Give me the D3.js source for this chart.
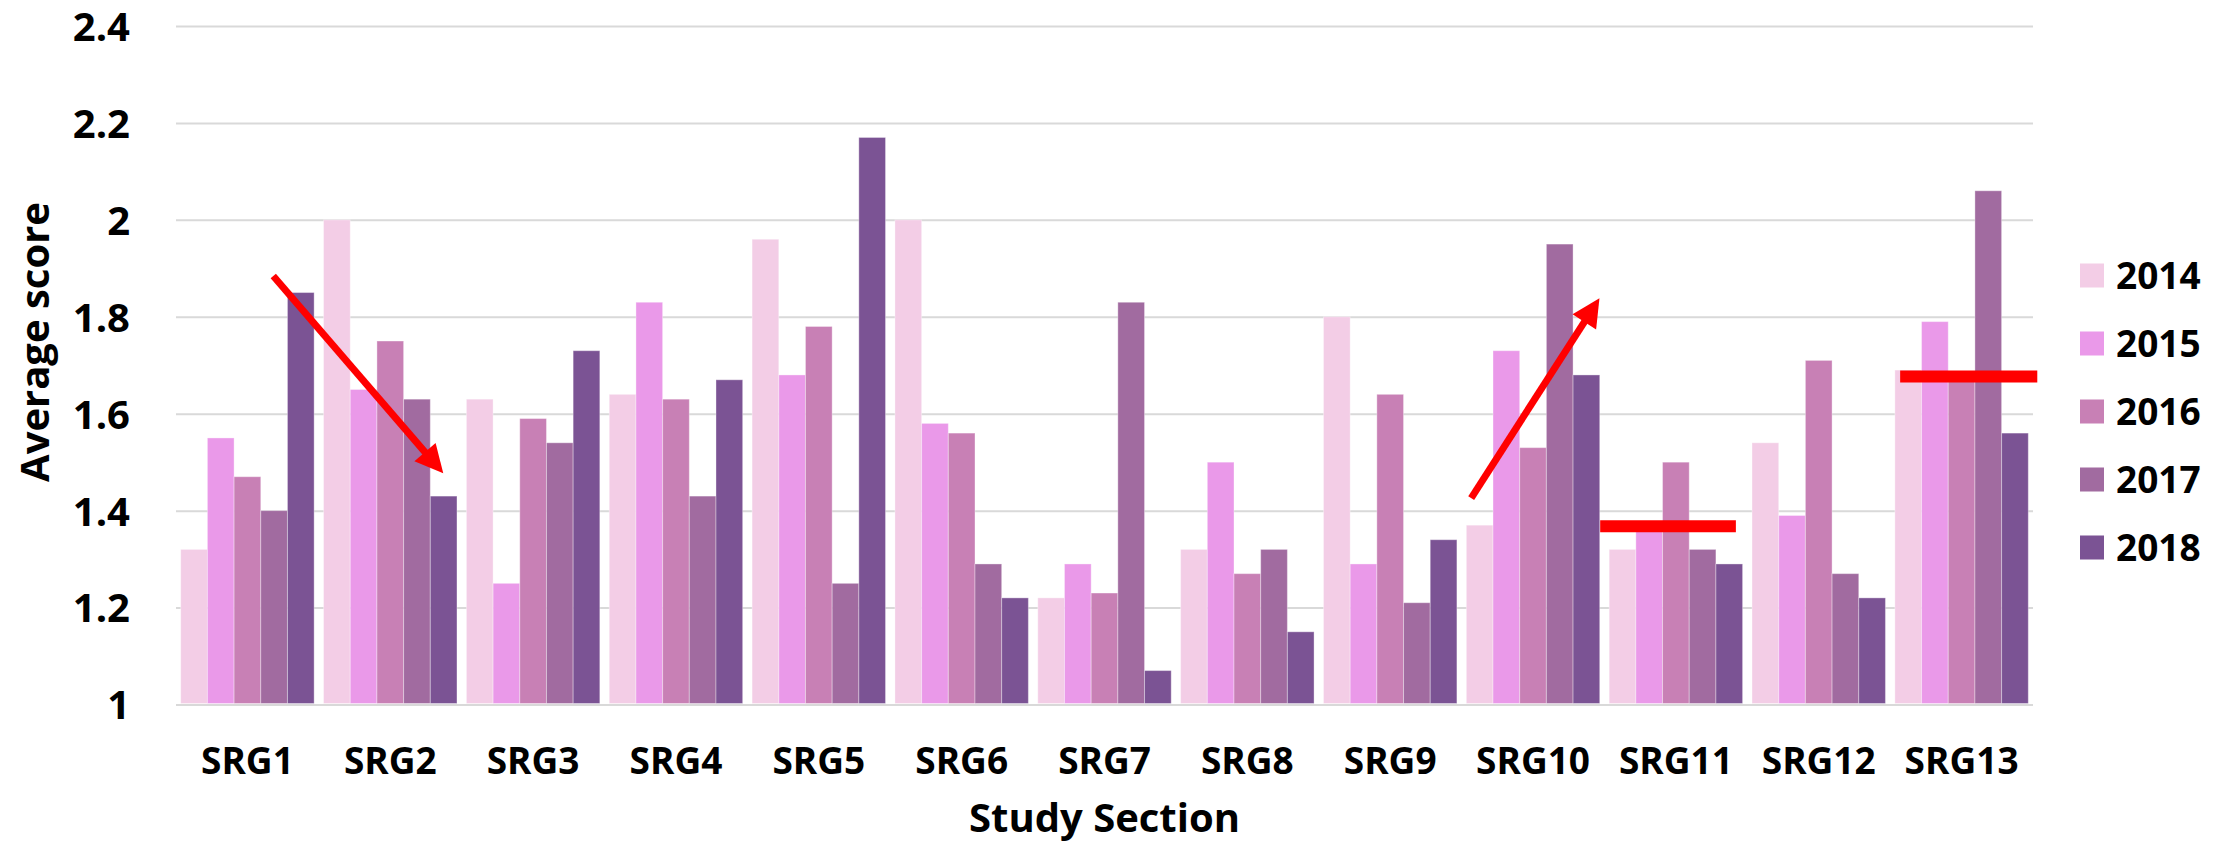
<!DOCTYPE html>
<html>
<head>
<meta charset="utf-8">
<script src="https://cdn.jsdelivr.net/npm/d3@7"></script>
<style>
  html, body { margin: 0; padding: 0; background: #ffffff; }
  svg { display: block; }
  text { font-family: "Open Sans", "Noto Sans", sans-serif; font-weight: 700; fill: #000; }
</style>
</head>
<body>
<script>
// ---------------- DATA ----------------
const categories = ["SRG1","SRG2","SRG3","SRG4","SRG5","SRG6","SRG7","SRG8","SRG9","SRG10","SRG11","SRG12","SRG13"];
const years = ["2014","2015","2016","2017","2018"];
const values2014 = [1.32, 2.00, 1.63, 1.64, 1.96, 2.00, 1.22, 1.32, 1.80, 1.37, 1.32, 1.54, 1.69];
const values2015 = [1.55, 1.65, 1.25, 1.83, 1.68, 1.58, 1.29, 1.50, 1.29, 1.73, 1.37, 1.39, 1.79];
const values2016 = [1.47, 1.75, 1.59, 1.63, 1.78, 1.56, 1.23, 1.27, 1.64, 1.53, 1.50, 1.71, 1.68];
const values2017 = [1.40, 1.63, 1.54, 1.43, 1.25, 1.29, 1.83, 1.32, 1.21, 1.95, 1.32, 1.27, 2.06];
const values2018 = [1.85, 1.43, 1.73, 1.67, 2.17, 1.22, 1.07, 1.15, 1.34, 1.68, 1.29, 1.22, 1.56];
const seriesValues = [values2014, values2015, values2016, values2017, values2018];
const yTicks = [1, 1.2, 1.4, 1.6, 1.8, 2, 2.2, 2.4];
const yTickLabels = ["1","1.2","1.4","1.6","1.8","2","2.2","2.4"];
const colors = ["#f3cde6","#ea99e9","#c880b5","#a16ba0","#7b5394"];
const xTitle = "Study Section";
const yTitle = "Average score";
// annotations, in data units (x in category units from left edge, y in score)
const arrows = [
  {x1: 0.681, y1: 1.884, x2: 1.871, y2: 1.477},
  {x1: 9.067, y1: 1.426, x2: 9.965, y2: 1.838}
];
const flatLines = [
  {x1: 9.97, x2: 10.92, y: 1.368},
  {x1: 12.07, x2: 13.03, y: 1.677}
];

// ---------------- LAYOUT ----------------
const W = 2228, H = 847;
const plot = {left: 176, right: 2033, top: 26, bottom: 704.5};

const svg = d3.select("body").append("svg").attr("width", W).attr("height", H);

const x0 = d3.scaleBand().domain(categories).range([plot.left, plot.right])
  .paddingInner(0.066).paddingOuter(0.033);
const x1 = d3.scaleBand().domain(years).range([0, x0.bandwidth()]).padding(0);
const y = d3.scaleLinear().domain([1, 2.4]).range([plot.bottom, plot.top]);
const xu = d3.scaleLinear().domain([0, categories.length]).range([plot.left, plot.right]);

// gridlines
const yAxis = d3.axisLeft(y).tickValues(yTicks)
  .tickSize(-(plot.right - plot.left))
  .tickFormat((d, i) => yTickLabels[i]);
const gy = svg.append("g").attr("transform", `translate(${plot.left},0)`).call(yAxis);
gy.select(".domain").remove();
gy.selectAll(".tick line").attr("stroke", "#d9d9d9").attr("stroke-width", 2);
gy.selectAll(".tick text")
  .attr("x", -46)
  .attr("dy", "0.36em")
  .style("font-size", "40px")
  .attr("fill", "#000");

// bars
const groups = svg.append("g").selectAll("g")
  .data(categories)
  .join("g")
  .attr("transform", d => `translate(${x0(d)},0)`);

groups.selectAll("rect")
  .data((c, ci) => years.map((yr, yi) => ({year: yr, yi, v: seriesValues[yi][ci]})))
  .join("rect")
  .attr("x", d => x1(d.year))
  .attr("width", x1.bandwidth())
  .attr("y", d => y(d.v))
  .attr("height", d => y(1) - 1 - y(d.v))
  .attr("fill", d => colors[d.yi])
  .attr("stroke", "rgba(255,255,255,0.35)")
  .attr("stroke-width", 1);

// x axis labels
const xAxis = d3.axisBottom(x0).tickSize(0).tickPadding(0);
const gx = svg.append("g").attr("transform", `translate(0,${plot.bottom})`).call(xAxis);
gx.select(".domain").remove();
gx.selectAll(".tick text")
  .attr("y", 69)
  .attr("dy", 0)
  .style("font-size", "37px")
  .attr("fill", "#000");

// axis titles
svg.append("text")
  .attr("x", (plot.left + plot.right) / 2)
  .attr("y", 832)
  .attr("text-anchor", "middle")
  .style("font-size", "40px")
  .text(xTitle);

svg.append("text")
  .attr("transform", `translate(49,342) rotate(-90)`)
  .attr("text-anchor", "middle")
  .style("font-size", "40px")
  .text(yTitle);

// legend
const legend = svg.append("g");
const legendRows = legend.selectAll("g").data(years).join("g")
  .attr("transform", (d, i) => `translate(2080,${275.5 + i * 68})`);
legendRows.append("rect")
  .attr("x", 0).attr("y", -12).attr("width", 24).attr("height", 24)
  .attr("fill", (d, i) => colors[i]);
legendRows.append("text")
  .attr("x", 36).attr("y", 13)
  .style("font-size", "37px")
  .text(d => d);

// annotations
const ann = svg.append("g");
flatLines.forEach(l => {
  ann.append("line")
    .attr("x1", xu(l.x1)).attr("x2", xu(l.x2))
    .attr("y1", y(l.y)).attr("y2", y(l.y))
    .attr("stroke", "#ff0000").attr("stroke-width", 12);
});
arrows.forEach(a => {
  const ax1 = xu(a.x1), ay1 = y(a.y1), ax2 = xu(a.x2), ay2 = y(a.y2);
  const dx = ax2 - ax1, dy = ay2 - ay1, len = Math.hypot(dx, dy);
  const ux = dx / len, uy = dy / len;
  const headLen = 28, headHalf = 14;
  const bx = ax2 - ux * headLen, by = ay2 - uy * headLen;
  ann.append("line")
    .attr("x1", ax1).attr("y1", ay1)
    .attr("x2", ax2 - ux * (headLen - 4)).attr("y2", ay2 - uy * (headLen - 4))
    .attr("stroke", "#ff0000").attr("stroke-width", 7);
  ann.append("polygon")
    .attr("points", [
      [ax2, ay2],
      [bx - uy * headHalf, by + ux * headHalf],
      [bx + uy * headHalf, by - ux * headHalf]
    ].map(p => p.join(",")).join(" "))
    .attr("fill", "#ff0000");
});
</script>
</body>
</html>
